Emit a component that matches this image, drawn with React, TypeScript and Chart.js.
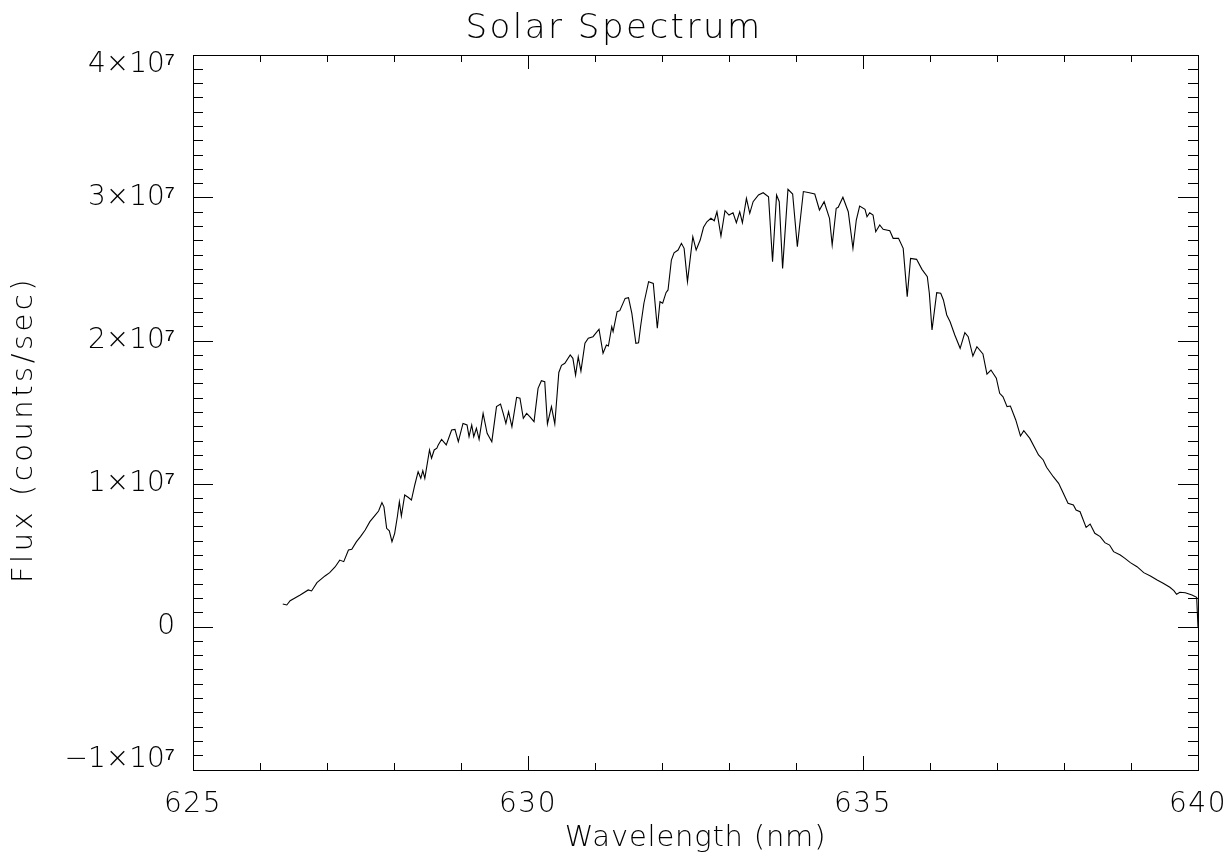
import React, { useEffect, useRef } from 'react';
import { Chart, registerables } from 'chart.js';

Chart.register(...registerables);

// Wavelength in nm
const WAVELENGTH = [
  626.34, 626.40, 626.45, 626.60, 626.72, 626.77, 626.85, 626.97, 627.04, 627.12,
  627.19, 627.25, 627.32, 627.37, 627.44, 627.50, 627.57, 627.64, 627.72, 627.77,
  627.82, 627.85, 627.89, 627.93, 627.97, 628.01, 628.05, 628.08, 628.11, 628.16,
  628.21, 628.26, 628.31, 628.36, 628.40, 628.43, 628.46, 628.53, 628.56, 628.60,
  628.64, 628.66, 628.71, 628.78, 628.86, 628.91, 628.96, 629.03, 629.09, 629.12,
  629.16, 629.19, 629.23, 629.27, 629.33, 629.39, 629.46, 629.53, 629.59, 629.63,
  629.67, 629.71, 629.76, 629.83, 629.88, 629.93, 629.98, 630.03, 630.09, 630.15,
  630.20, 630.25, 630.29, 630.35, 630.40, 630.46, 630.50, 630.55, 630.63, 630.67,
  630.71, 630.75, 630.79, 630.85, 630.90, 630.97, 631.06, 631.12, 631.17, 631.20,
  631.25, 631.27, 631.33, 631.37, 631.45, 631.50, 631.55, 631.61, 631.65, 631.68,
  631.73, 631.80, 631.87, 631.93, 631.97, 632.01, 632.06, 632.09, 632.14, 632.18,
  632.24, 632.29, 632.33, 632.38, 632.46, 632.51, 632.57, 632.62, 632.67, 632.73,
  632.78, 632.82, 632.88, 632.94, 633.00, 633.06, 633.11, 633.16, 633.20, 633.26,
  633.31, 633.36, 633.44, 633.51, 633.59, 633.65, 633.71, 633.75, 633.80, 633.88,
  633.95, 634.02, 634.11, 634.20, 634.28, 634.35, 634.42, 634.50, 634.54, 634.60,
  634.63, 634.70, 634.78, 634.85, 634.90, 634.95, 635.03, 635.06, 635.10, 635.15,
  635.19, 635.25, 635.30, 635.40, 635.45, 635.53, 635.60, 635.66, 635.71, 635.80,
  635.88, 635.96, 635.99, 636.03, 636.10, 636.16, 636.20, 636.25, 636.30, 636.37,
  636.45, 636.52, 636.57, 636.64, 636.70, 636.79, 636.85, 636.91, 636.99, 637.04,
  637.09, 637.15, 637.20, 637.28, 637.35, 637.40, 637.49, 637.62, 637.69, 637.74,
  637.84, 637.92, 637.99, 638.06, 638.14, 638.18, 638.24, 638.33, 638.39, 638.46,
  638.54, 638.61, 638.68, 638.74, 638.84, 638.91, 638.99, 639.09, 639.19, 639.29,
  639.39, 639.48, 639.58, 639.64, 639.68, 639.73, 639.81, 639.91, 639.98, 640.00,
];

// Flux in counts/sec
const FLUX = [
  0.161e7, 0.154e7, 0.184e7, 0.224e7, 0.259e7, 0.252e7, 0.310e7, 0.357e7, 0.380e7, 0.420e7,
  0.468e7, 0.457e7, 0.538e7, 0.543e7, 0.597e7, 0.632e7, 0.678e7, 0.737e7, 0.783e7, 0.811e7,
  0.870e7, 0.840e7, 0.690e7, 0.673e7, 0.597e7, 0.655e7, 0.771e7, 0.876e7, 0.776e7, 0.923e7,
  0.907e7, 0.888e7, 0.993e7, 1.086e7, 1.040e7, 1.093e7, 1.040e7, 1.238e7, 1.180e7, 1.238e7,
  1.250e7, 1.273e7, 1.312e7, 1.273e7, 1.378e7, 1.382e7, 1.296e7, 1.424e7, 1.413e7, 1.331e7,
  1.413e7, 1.331e7, 1.390e7, 1.312e7, 1.494e7, 1.355e7, 1.296e7, 1.541e7, 1.559e7, 1.494e7,
  1.424e7, 1.506e7, 1.400e7, 1.606e7, 1.600e7, 1.459e7, 1.494e7, 1.470e7, 1.436e7, 1.669e7,
  1.722e7, 1.715e7, 1.420e7, 1.541e7, 1.420e7, 1.780e7, 1.830e7, 1.844e7, 1.902e7, 1.879e7,
  1.762e7, 1.890e7, 1.790e7, 1.984e7, 2.019e7, 2.030e7, 2.082e7, 1.914e7, 1.972e7, 1.965e7,
  2.100e7, 2.065e7, 2.205e7, 2.212e7, 2.298e7, 2.303e7, 2.193e7, 1.984e7, 1.988e7, 2.100e7,
  2.264e7, 2.415e7, 2.403e7, 2.089e7, 2.275e7, 2.264e7, 2.338e7, 2.357e7, 2.566e7, 2.617e7,
  2.636e7, 2.683e7, 2.648e7, 2.415e7, 2.729e7, 2.636e7, 2.706e7, 2.795e7, 2.834e7, 2.858e7,
  2.841e7, 2.904e7, 2.734e7, 2.911e7, 2.881e7, 2.897e7, 2.827e7, 2.904e7, 2.827e7, 2.998e7,
  2.893e7, 2.974e7, 3.021e7, 3.037e7, 3.009e7, 2.555e7, 3.021e7, 2.974e7, 2.508e7, 3.061e7,
  3.028e7, 2.660e7, 3.045e7, 3.037e7, 3.028e7, 2.916e7, 2.974e7, 2.858e7, 2.671e7, 2.928e7,
  2.935e7, 3.005e7, 2.904e7, 2.648e7, 2.846e7, 2.944e7, 2.921e7, 2.869e7, 2.897e7, 2.881e7,
  2.764e7, 2.811e7, 2.781e7, 2.771e7, 2.718e7, 2.718e7, 2.648e7, 2.310e7, 2.578e7, 2.571e7,
  2.501e7, 2.450e7, 2.334e7, 2.077e7, 2.338e7, 2.334e7, 2.287e7, 2.182e7, 2.135e7, 2.042e7,
  1.949e7, 2.058e7, 2.030e7, 1.895e7, 1.960e7, 1.909e7, 1.769e7, 1.797e7, 1.740e7, 1.634e7,
  1.610e7, 1.541e7, 1.545e7, 1.448e7, 1.336e7, 1.373e7, 1.319e7, 1.203e7, 1.168e7, 1.117e7,
  1.051e7, 1.005e7, 0.935e7, 0.865e7, 0.853e7, 0.818e7, 0.806e7, 0.697e7, 0.720e7, 0.655e7,
  0.632e7, 0.590e7, 0.573e7, 0.527e7, 0.503e7, 0.480e7, 0.450e7, 0.422e7, 0.380e7, 0.357e7,
  0.329e7, 0.306e7, 0.278e7, 0.254e7, 0.229e7, 0.243e7, 0.240e7, 0.224e7, 0.208e7, 0.000e7,
];

const X_MIN = 625;
const X_MAX = 640;
const Y_MIN = -1e7;
const Y_MAX = 4e7;
const X_MAJOR_TICKS = [625, 630, 635, 640];
const X_TICK_LABELS = ['625', '630', '635', '640'];
const X_MINOR_STEP = 1;
const Y_MAJOR_TICKS = [-1e7, 0, 1e7, 2e7, 3e7, 4e7];
const Y_TICK_LABELS = ['\u22121\u00d710\u2077', '0', '1\u00d710\u2077', '2\u00d710\u2077', '3\u00d710\u2077', '4\u00d710\u2077'];
const Y_MINOR_STEP = 1e6;

const TITLE = 'Solar Spectrum';
const X_TITLE = 'Wavelength (nm)';
const Y_TITLE = 'Flux (counts/sec)';

const FAMILY = '"DejaVu Sans", "Liberation Sans", sans-serif';
const INK = '#000000';

const zeroPad = (s: any) => {
  s.paddingLeft = 0;
  s.paddingRight = 0;
  s.paddingTop = 0;
  s.paddingBottom = 0;
};

// Wraps a drawing method so its text gets some letter spacing (and an optional shift).
const withSpacing = (obj: any, method: string, spacing: string, dx: number, dy: number) => {
  if (!obj || obj['__spaced_' + method]) return;
  const orig = obj[method];
  obj[method] = function (...args: any[]) {
    const ctx = this.ctx;
    ctx.save();
    ctx.letterSpacing = spacing;
    ctx.translate(dx, dy);
    orig.apply(this, args);
    ctx.restore();
  };
  obj['__spaced_' + method] = true;
};

const spacingPlugin = {
  id: 'textSpacing',
  afterLayout(chart: any) {
    withSpacing(chart.titleBlock, 'draw', '2.5px', 0, 0);
    withSpacing(chart.scales.y, 'drawTitle', '3.5px', 0, 17);
    withSpacing(chart.scales.x, 'drawTitle', '0.8px', 0, 0);
    withSpacing(chart.scales.x, 'drawLabels', '1.5px', 0, 0);
  },
};

export default function App() {
  const ref = useRef<HTMLCanvasElement | null>(null);

  useEffect(() => {
    if (!ref.current) return;
    const points = WAVELENGTH.map((w, i) => ({ x: w, y: FLUX[i] }));

    const minorAxis = (axis: 'x' | 'y', position: string, len: number) => ({
      type: 'linear',
      axis,
      position,
      min: axis === 'x' ? X_MIN : Y_MIN,
      max: axis === 'x' ? X_MAX : Y_MAX,
      weight: 0,
      ticks: { display: false, stepSize: axis === 'x' ? X_MINOR_STEP : Y_MINOR_STEP, autoSkip: false },
      grid: { display: true, drawOnChartArea: false, drawTicks: true, tickLength: -len, tickColor: INK, tickWidth: 1 },
      border: { display: false },
      afterFit: (s: any) => {
        if (axis === 'x') s.height = 0; else s.width = 0;
        zeroPad(s);
      },
    });

    const chart = new Chart(ref.current, {
      type: 'line',
      data: {
        datasets: [
          {
            label: 'Flux',
            data: points,
            xAxisID: 'x',
            yAxisID: 'y',
            borderColor: INK,
            borderWidth: 1.1,
            pointRadius: 0,
            pointHoverRadius: 0,
            tension: 0,
            fill: false,
          },
        ],
      },
      plugins: [spacingPlugin],
      options: {
        responsive: false,
        animation: false,
        layout: { padding: 0 },
        plugins: {
          legend: { display: false },
          tooltip: { enabled: false },
          title: {
            display: true,
            text: TITLE,
            color: INK,
            font: { family: FAMILY, size: 34, weight: '200', lineHeight: '40px' },
            padding: { top: 9, bottom: 0 },
          },
        },
        scales: {
          x: {
            type: 'linear',
            axis: 'x',
            position: 'bottom',
            min: X_MIN,
            max: X_MAX,
            weight: 10,
            afterBuildTicks: (s: any) => {
              s.ticks = X_MAJOR_TICKS.map((v) => ({ value: v }));
            },
            afterFit: (s: any) => {
              s.height = 92;
              zeroPad(s);
            },
            grid: { display: true, drawOnChartArea: false, drawTicks: true, tickLength: -14, tickColor: INK, tickWidth: 1 },
            border: { display: true, color: INK, width: 1 },
            ticks: {
              color: INK,
              autoSkip: false,
              maxRotation: 0,
              padding: 32,
              font: { family: FAMILY, size: 28, weight: '200' },
              callback: (v: any) => X_TICK_LABELS[X_MAJOR_TICKS.indexOf(Number(v))] ?? '',
            },
            title: {
              display: true,
              text: X_TITLE,
              color: INK,
              font: { family: FAMILY, size: 29, weight: '200' },
              padding: { top: 0, bottom: 6 },
            },
          },
          xMinor: minorAxis('x', 'bottom', 7),
          xTop: {
            type: 'linear',
            axis: 'x',
            position: 'top',
            min: X_MIN,
            max: X_MAX,
            weight: 10,
            afterBuildTicks: (s: any) => {
              s.ticks = X_MAJOR_TICKS.map((v) => ({ value: v }));
            },
            afterFit: (s: any) => {
              s.height = 6;
              zeroPad(s);
            },
            ticks: { display: false },
            grid: { display: true, drawOnChartArea: false, drawTicks: true, tickLength: -14, tickColor: INK, tickWidth: 1 },
            border: { display: true, color: INK, width: 1 },
          },
          xTopMinor: minorAxis('x', 'top', 7),
          y: {
            type: 'linear',
            axis: 'y',
            position: 'left',
            min: Y_MIN,
            max: Y_MAX,
            weight: 10,
            afterBuildTicks: (s: any) => {
              s.ticks = Y_MAJOR_TICKS.map((v) => ({ value: v }));
            },
            afterFit: (s: any) => {
              s.width = 193;
              zeroPad(s);
            },
            grid: { display: true, drawOnChartArea: false, drawTicks: true, tickLength: -20, tickColor: INK, tickWidth: 1 },
            border: { display: true, color: INK, width: 1 },
            ticks: {
              color: INK,
              autoSkip: false,
              padding: 38,
              font: { family: FAMILY, size: 28, weight: '200', lineHeight: '20px' },
              callback: (v: any) => {
                const val = Number(v);
                const label = Y_TICK_LABELS[Y_MAJOR_TICKS.indexOf(val)] ?? '';
                if (val === Y_MAX) return ['', label];
                if (val === Y_MIN) return [label, ''];
                return label;
              },
            },
            title: {
              display: true,
              text: Y_TITLE,
              color: INK,
              font: { family: FAMILY, size: 29, weight: '200' },
              padding: { top: 7, bottom: 0 },
            },
          },
          yMinor: minorAxis('y', 'left', 10),
          yRight: {
            type: 'linear',
            axis: 'y',
            position: 'right',
            min: Y_MIN,
            max: Y_MAX,
            weight: 10,
            afterBuildTicks: (s: any) => {
              s.ticks = Y_MAJOR_TICKS.map((v) => ({ value: v }));
            },
            afterFit: (s: any) => {
              s.width = 30;
              zeroPad(s);
            },
            ticks: { display: false },
            grid: { display: true, drawOnChartArea: false, drawTicks: true, tickLength: -20, tickColor: INK, tickWidth: 1 },
            border: { display: true, color: INK, width: 1 },
          },
          yRightMinor: minorAxis('y', 'right', 10),
        },
      } as any,
    });

    return () => chart.destroy();
  }, []);

  return (
    <div style={{ position: 'fixed', left: 0, top: 0, width: 1228, height: 862, background: '#ffffff' }}>
      <canvas ref={ref} width={1228} height={862} />
    </div>
  );
}
